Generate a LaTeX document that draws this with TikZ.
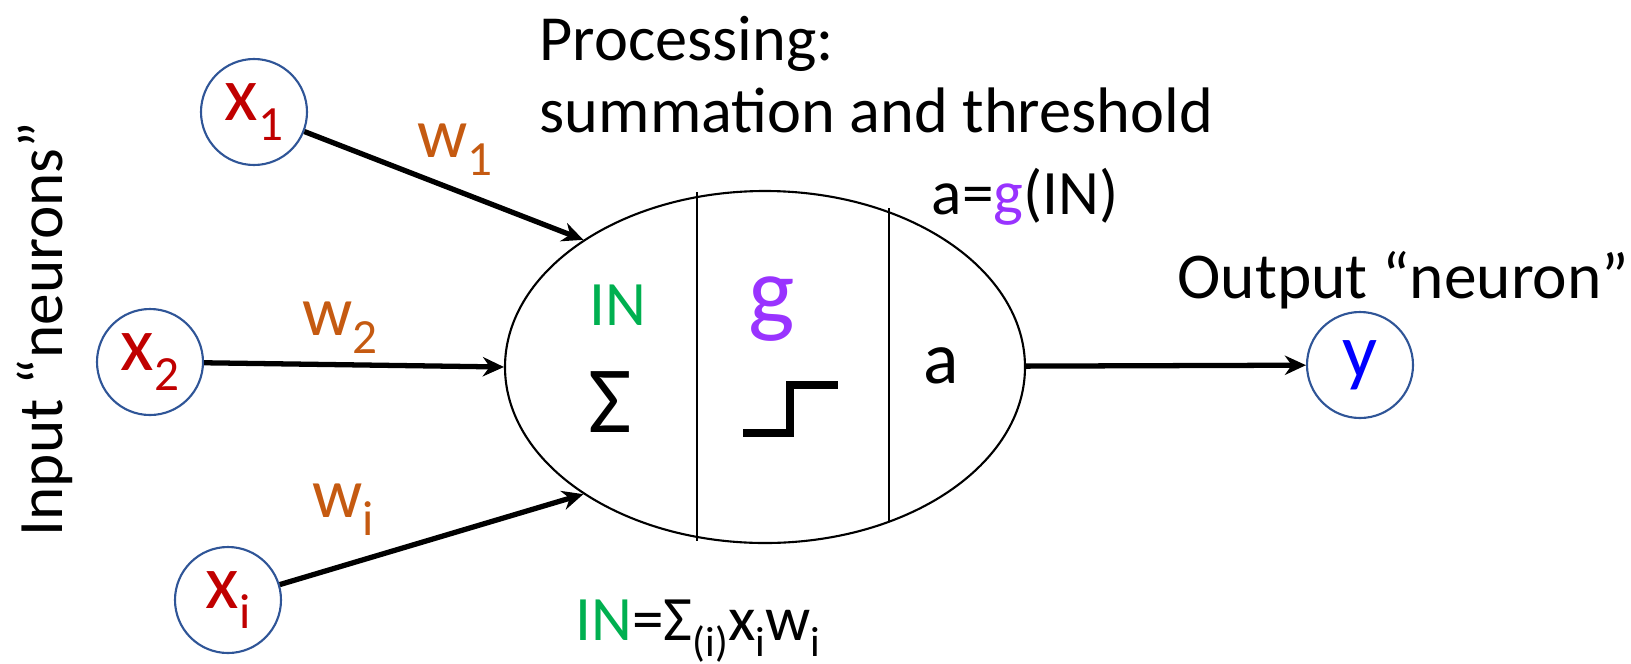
\documentclass[tikz,border=0pt]{standalone}
\usepackage{fontspec}
\setmainfont{Carlito}
\usetikzlibrary{arrows.meta,shapes.geometric}

\definecolor{xred}{HTML}{C00000}
\definecolor{wbrown}{HTML}{C55A11}
\definecolor{ringblue}{HTML}{2F5597}
\definecolor{ingreen}{HTML}{00B050}
\definecolor{gpurple}{HTML}{9933FF}
\definecolor{yblue}{HTML}{0000FF}

% lowered small text for the indices
\newcommand{\lowsub}[2][14]{\raisebox{-0.26em}{\fontsize{#1}{#1}\selectfont #2}}

\begin{document}
\begin{tikzpicture}[
    inputnode/.style={circle, draw=ringblue, line width=0.6pt, minimum size=1.06cm, inner sep=0pt, font=\fontsize{22}{26}\selectfont},
    wlabel/.style={text=wbrown, inner sep=0pt, font=\fontsize{20}{24}\selectfont},
    link/.style={-{Stealth[length=6pt,width=5.5pt]}, line width=1.5pt},
    plain/.style={inner sep=0pt, font=\fontsize{18}{20}\selectfont}
]
    % frame of the picture
    \useasboundingbox (0,0) rectangle (16.31,6.63);

    % Input neurons
    \node[inputnode, text=xred] (x1) at (2.54,5.51) {x\lowsub{1}};
    \node[inputnode, text=xred] (x2) at (1.50,3.01) {x\lowsub{2}};
    \node[inputnode, text=xred] (xi) at (2.28,0.63) {x\lowsub{i}};
    \node[plain, rotate=90, anchor=base] (inlbl) at (0.62,3.34) {Input “neurons”};

    % Processing unit
    \node[ellipse, draw, line width=0.6pt, minimum width=5.2cm, minimum height=3.52cm, inner sep=0pt] (neuron) at (7.65,2.96) {};
    \draw[line width=0.6pt] (6.97,4.71) -- (6.97,1.22);
    \draw[line width=0.6pt] (8.89,4.55) -- (8.89,1.41);
    \node[plain, anchor=base west, align=left, font=\fontsize{18.3}{20.3}\selectfont] (proc) at (5.39,5.31) {Processing:\\summation and threshold};

    % Summation part
    \node[plain, text=ingreen] (insum) at (6.175,3.575) {IN};
    \node[inner sep=0pt, font=\fontsize{27}{32}\selectfont] (sigma) at (6.10,2.61) {Σ};

    % Threshold part
    \node[inner sep=0pt, text=gpurple, font=\fontsize{28}{32}\selectfont] (gfun) at (7.72,3.54) {g};
    \draw[line width=2pt] (7.43,2.30) -- (7.90,2.30) -- (7.90,2.78) -- (8.38,2.78);

    % Activation part
    \node[inner sep=0pt, font=\fontsize{21}{25}\selectfont] (aout) at (9.41,2.97) {a};
    \node[plain, anchor=base west] (aeq) at (9.31,4.49) {a=\textcolor{gpurple}{g}(IN)};

    % Output neuron
    \node[inputnode, text=yblue] (y) at (13.60,2.98) {y};
    \node[plain, anchor=base west, font=\fontsize{18.6}{21}\selectfont] (outlbl) at (11.77,3.65) {Output “neuron”};

    % Weighted links
    \draw[link] (x1) -- (neuron.145.5);
    \draw[link] (x2) -- (neuron.west);
    \draw[link] (xi) -- (neuron.-145.5);
    \draw[link] (neuron) -- (y);
    \node[wlabel] (w1) at (4.55,5.13) {w\lowsub{1}};
    \node[wlabel] (w2) at (3.40,3.35) {w\lowsub{2}};
    \node[wlabel] (wi) at (3.43,1.53) {w\lowsub{i}};

    % Weighted sum
    \node[plain, anchor=base west] (inform) at (5.75,0.23) {\textcolor{ingreen}{IN}=Σ\lowsub[12]{(i)}x\lowsub[12]{i}w\lowsub[12]{i}};
\end{tikzpicture}
\end{document}
